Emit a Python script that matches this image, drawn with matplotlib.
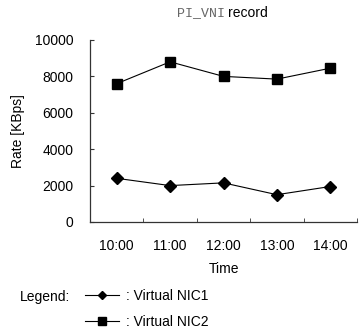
import numpy as np
import matplotlib.pyplot as plt
from matplotlib.lines import Line2D

#### data ####
times = ['10:00', '11:00', '12:00', '13:00', '14:00']
nic1 = [2400, 2000, 2150, 1500, 1950]
nic2 = [7600, 8800, 8000, 7850, 8450]
yticks = [0, 2000, 4000, 6000, 8000, 10000]
########################################

plt.rcParams['font.family'] = ['Liberation Sans', 'DejaVu Sans']

fig = plt.figure(figsize=(3.6, 3.36), dpi=100)
ax = fig.add_axes([0.25, 0.3393, 0.7417, 0.5417])

x = np.arange(len(times))
ax.plot(x, nic1, color='black', lw=0.8, marker='D', ms=6.3, label=': Virtual NIC1')
ax.plot(x, nic2, color='black', lw=0.8, marker='s', ms=7, label=': Virtual NIC2')

ax.set_xlim(-0.5, len(times) - 0.5)
ax.set_ylim(0, 10000)
ax.set_yticks(yticks)
ax.set_xticks(x)
ax.set_xticklabels(times)
ax.set_xticks(np.arange(len(times) + 1) - 0.5, minor=True)

for s in ['top', 'right']:
    ax.spines[s].set_visible(False)
for s in ['left', 'bottom']:
    ax.spines[s].set_color('#333333')
    ax.spines[s].set_linewidth(0.9)

ax.tick_params(axis='x', which='major', length=0, pad=12, labelsize=10)
ax.tick_params(axis='x', which='minor', direction='in', length=3, color='#333333')
ax.tick_params(axis='y', direction='in', length=3, color='#333333', pad=12, labelsize=10)

ax.set_xlabel('Time', fontsize=10, labelpad=7)
ax.set_ylabel('Rate [KBps]', fontsize=10, labelpad=7)

# title: mono part + normal part
fig.text(0.624, 0.961, 'PI_VNI', family=['Liberation Mono', 'DejaVu Sans Mono'],
         color='#666666', fontsize=9.5, ha='right', va='center')
fig.text(0.632, 0.961, 'record', fontsize=10, ha='left', va='center')

# legend
fig.text(0.055, 0.116, 'Legend:', fontsize=10, va='center')
h1 = Line2D([], [], color='black', lw=0.8, marker='D', ms=4.5)
h2 = Line2D([], [], color='black', lw=0.8, marker='s', ms=5.5)
fig.legend([h1, h2], [': Virtual NIC1', ': Virtual NIC2'], loc='upper left',
           bbox_to_anchor=(0.235, 0.140), frameon=False, fontsize=10,
           handlelength=2.5, handletextpad=0.45, labelspacing=0.85,
           borderpad=0, borderaxespad=0)

plt.savefig('out.png', dpi=100)
